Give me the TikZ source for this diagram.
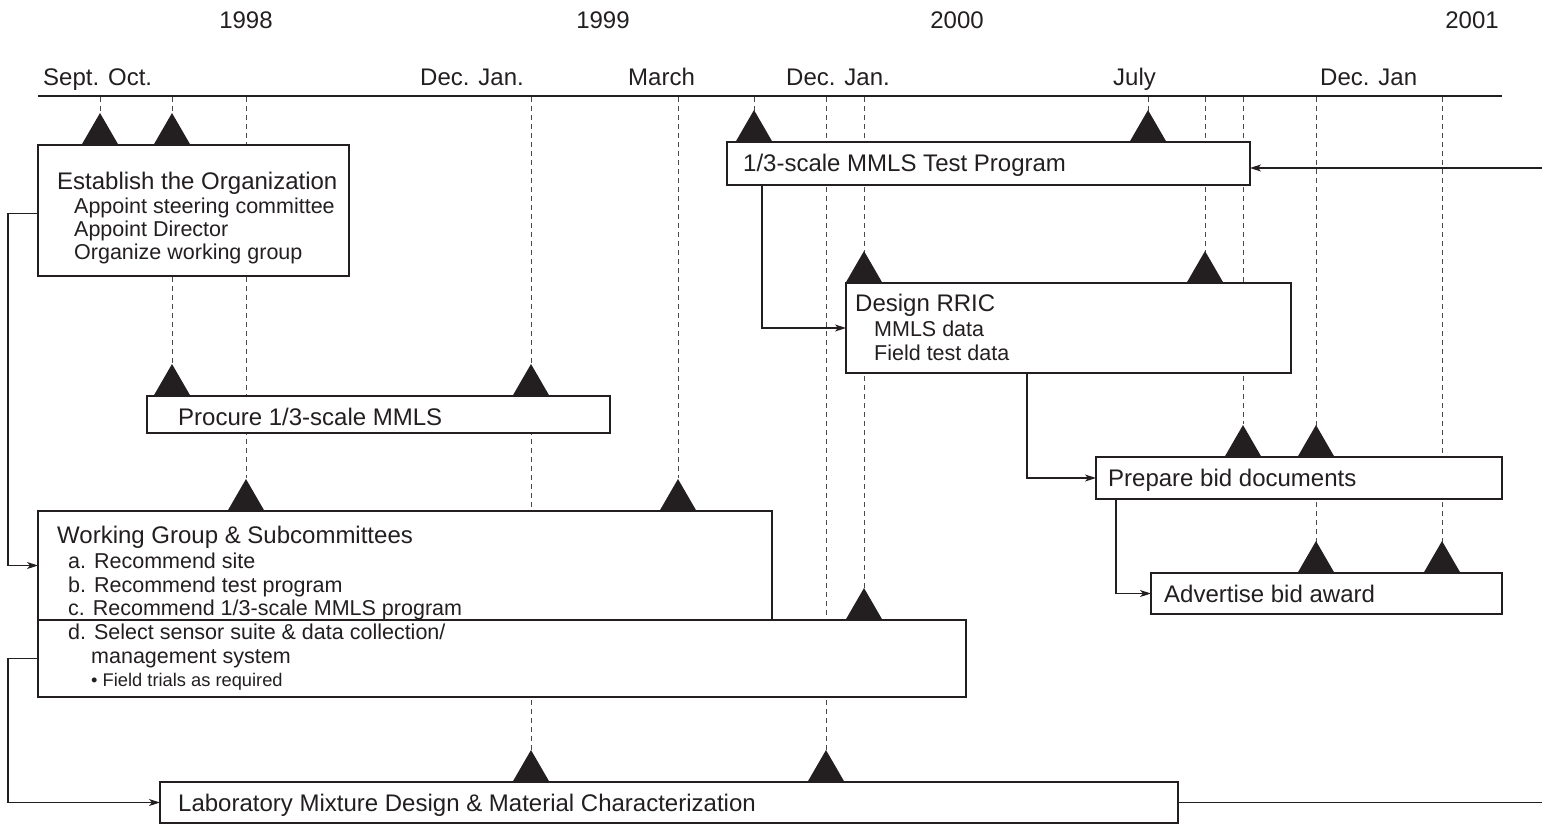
\documentclass[tikz,border=0pt]{standalone}
\usepackage{fontspec}
\setmainfont{Liberation Sans}
\usetikzlibrary{arrows.meta,calc}
\definecolor{ink}{HTML}{231F20}
\definecolor{dashc}{HTML}{4A4A4A}
\begin{document}
\begin{tikzpicture}[x=1pt,y=-1pt,
  box/.style={draw=ink,line width=1.6pt,fill=white,anchor=north west,inner sep=0pt,outer sep=0pt},
  big/.style={font=\fontsize{24}{28}\selectfont,text=ink,anchor=base west,inner sep=0pt},
  yr/.style={font=\fontsize{24}{28}\selectfont,text=ink,anchor=base,inner sep=0pt},
  small/.style={font=\fontsize{21.5}{25}\selectfont,text=ink,anchor=base west,inner sep=0pt},
  tiny/.style={font=\fontsize{18.3}{22}\selectfont,text=ink,anchor=base west,inner sep=0pt},
  guide/.style={draw=dashc,line width=0.9pt,dash pattern=on 5pt off 4pt},
  conn/.style={draw=ink,line width=1.1pt},
  arr/.style={conn,-{Stealth[length=11pt,width=7pt,inset=3pt]}},
  ms/.pic={\fill[ink] (-18.5,0) -- (0,-32) -- (18.5,0) -- cycle;}
]
\useasboundingbox (0,0) rectangle (1542,825);

% years and months
\node[yr] (y98) at (246,28) {1998};
\node[yr] (y99) at (603,28) {1999};
\node[yr] (y00) at (957,28) {2000};
\node[yr] (y01) at (1472,28) {2001};
\node[big] (m1) at (43,85) {Sept. Oct.};
\node[big] (m2) at (420,85) {Dec. Jan.};
\node[big] (m3) at (628,85) {March};
\node[big] (m4) at (786,85) {Dec. Jan.};
\node[big] (m5) at (1113,85) {July};
\node[big] (m6) at (1320,85) {Dec. Jan};

% axis
\coordinate (axL) at (38,96);
\coordinate (axR) at (1502,96);
\draw[conn] (axL) -- (axR);

% dashed guide lines
\foreach \gx/\gy in {100/112,172/364,246/478,531/752,678/478,754/112,826/752,864/588,1148/112,1205/252,1243/424,1316/544,1442/544}
  \draw[guide] (\gx,97) -- (\gx,\gy);

% boxes
\node[box,minimum width=311pt,minimum height=131pt] (est) at (38,145) {};
\node[box,minimum width=523pt,minimum height=43pt] (mmls) at (727,142) {};
\node[box,minimum width=445pt,minimum height=90pt] (rric) at (846,283) {};
\node[box,minimum width=463pt,minimum height=37pt] (proc) at (147,396) {};
\node[box,minimum width=734pt,minimum height=109pt] (wg) at (38,511) {};
\node[box,minimum width=928pt,minimum height=77pt] (dbox) at (38,620) {};
\node[box,minimum width=406pt,minimum height=42pt] (bid) at (1096,457) {};
\node[box,minimum width=351pt,minimum height=41pt] (adv) at (1151,573) {};
\node[box,minimum width=1018pt,minimum height=41pt] (lab) at (160,782) {};

% milestones
\foreach \mx/\my in {100/145,172/145,754/142,1148/142,864/283,1205/283,172/396,531/396,246/511,678/511,864/620,1243/457,1316/457,1316/573,1442/573,531/782,826/782}
  \pic at (\mx,\my) {ms};

% texts
\node[big] (est1) at (57,189) {Establish the Organization};
\node[small] (est2) at (74,213) {Appoint steering committee};
\node[small] (est3) at (74,236) {Appoint Director};
\node[small] (est4) at (74,259) {Organize working group};
\node[big] (mmls1) at (743,171) {1/3-scale MMLS Test Program};
\node[big] (rric1) at (855,311) {Design RRIC};
\node[small] (rric2) at (874,336) {MMLS data};
\node[small] (rric3) at (874,360) {Field test data};
\node[big] (proc1) at (178,425) {Procure 1/3-scale MMLS};
\node[big] (wg1) at (57,543) {Working Group \& Subcommittees};
\node[small] (wg2) at (68,568) {a. Recommend site};
\node[small] (wg3) at (68,592) {b. Recommend test program};
\node[small] (wg4) at (68,615) {c. Recommend 1/3-scale MMLS program};
\node[small] (wg5) at (68,639) {d. Select sensor suite \& data collection/};
\node[small] (wg6) at (91,663) {management system};
\node[tiny] (wg7) at (91,686) {• Field trials as required};
\node[big] (bid1) at (1108,486) {Prepare bid documents};
\node[big] (adv1) at (1164,602) {Advertise bid award};
\node[big] (lab1) at (178,811) {Laboratory Mixture Design \& Material Characterization};

% connectors
\coordinate (busL) at (8,0);
\coordinate (e1) at ([yshift=-3pt]est.west);
\draw[arr] (e1) -- (e1 -| busL) |- (wg.west);
\draw[arr] (dbox.west) -- (dbox.west -| busL) |- (lab.west);
\coordinate (rin) at (1542,168);
\draw[arr] (rin) -- (rin -| mmls.east);
\coordinate (c4) at (762,0);
\draw[arr] (mmls.south -| c4) |- (rric.west);
\coordinate (c5) at (1027,0);
\draw[arr] (rric.south -| c5) |- (bid.west);
\coordinate (c6) at (1116,0);
\draw[arr] (bid.south -| c6) |- (adv.west);
\coordinate (rout) at (1542,0);
\draw[conn] (lab.east) -- (lab.east -| rout);
\end{tikzpicture}
\end{document}
